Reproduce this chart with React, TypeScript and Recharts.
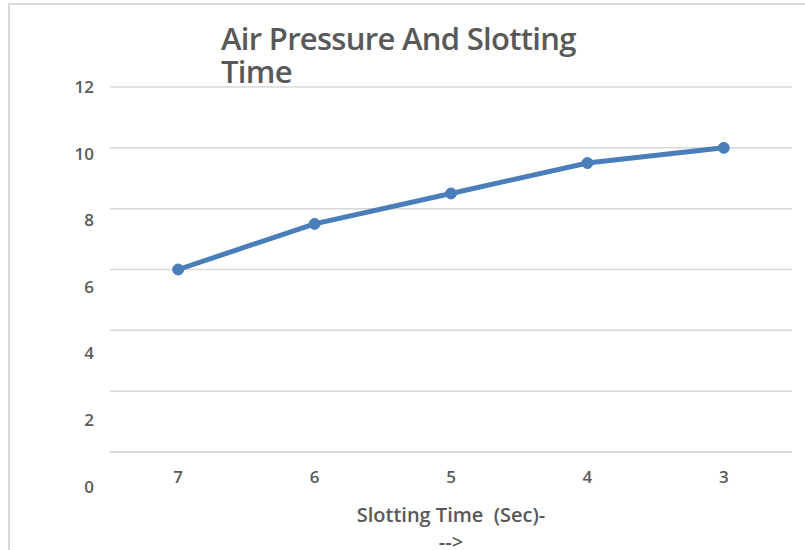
import React from 'react';
import { LineChart, Line, XAxis, YAxis, CartesianGrid } from 'recharts';

const slottingTimes = ['7', '6', '5', '4', '3'];
const airPressure = [6, 7.5, 8.5, 9.5, 10];
const yTicks = [0, 2, 4, 6, 8, 10, 12];

const data = slottingTimes.map((t, i) => ({ time: t, pressure: airPressure[i] }));

const FONT = "'Open Sans', 'Noto Sans', sans-serif";
const GREY = '#595959';

// y labels in the reference drift down a little more at each step
const YTick = (props: any) => {
  const { x, y, payload } = props;
  const drift = (12 - payload.value) * 2.9;
  return (
    <text x={x} y={y + drift} dy="0.35em" textAnchor="end" fill={GREY}
      fontFamily={FONT} fontSize={17} fontWeight={600}>
      {payload.value}
    </text>
  );
};

const AxisTitle = (props: any) => {
  const { viewBox } = props;
  const cx = viewBox.x + viewBox.width / 2;
  return (
    <text x={cx} y={viewBox.y + 70} textAnchor="middle" fill={GREY}
      fontFamily={FONT} fontSize={20} fontWeight={600}>
      <tspan x={cx}>{'Slotting Time\u00a0 (Sec)-'}</tspan>
      <tspan x={cx} dy={27}>--&gt;</tspan>
    </text>
  );
};

const App = () => {
  return (
    <div style={{ position: 'absolute', left: 0, top: 0, width: 805, height: 550, background: '#fff', overflow: 'hidden' }}>
      {/* chart frame */}
      <div style={{ position: 'absolute', left: 8, top: 3, width: 805, height: 560, borderLeft: '2px solid #d9d9d9', borderTop: '2px solid #d9d9d9' }}></div>

      <LineChart width={805} height={550} data={data}
        margin={{ top: 87, right: 13, bottom: 38, left: 50 }}
        style={{ position: 'absolute', left: 0, top: 0 }}>
        <CartesianGrid vertical={false} stroke="#d9d9d9" strokeWidth={1.5} />
        <XAxis dataKey="time" scale="band" height={60} axisLine={{ stroke: '#d9d9d9', strokeWidth: 2 }} tickLine={false}
          tickSize={0} tickMargin={19}
          tick={{ fill: GREY, fontFamily: FONT, fontSize: 17, fontWeight: 600 }}
          label={<AxisTitle />} />
        <YAxis width={60} domain={[0, 12]} ticks={yTicks} axisLine={false} tickLine={false}
          tickSize={0} tickMargin={16} tick={<YTick />} />
        <Line type="linear" dataKey="pressure" stroke="#4a7ebb" strokeWidth={5}
          dot={{ r: 5.5, fill: '#4a7ebb', stroke: '#4a7ebb', strokeWidth: 1 }}
          isAnimationActive={false} />
      </LineChart>

      <div style={{ position: 'absolute', left: 221, top: 22, color: GREY, fontFamily: FONT,
        fontSize: 31, fontWeight: 600, lineHeight: '33px', letterSpacing: -0.7, whiteSpace: 'nowrap' }}>
        <div>Air Pressure And Slotting</div>
        <div>Time</div>
      </div>
    </div>
  );
};

export default App;
